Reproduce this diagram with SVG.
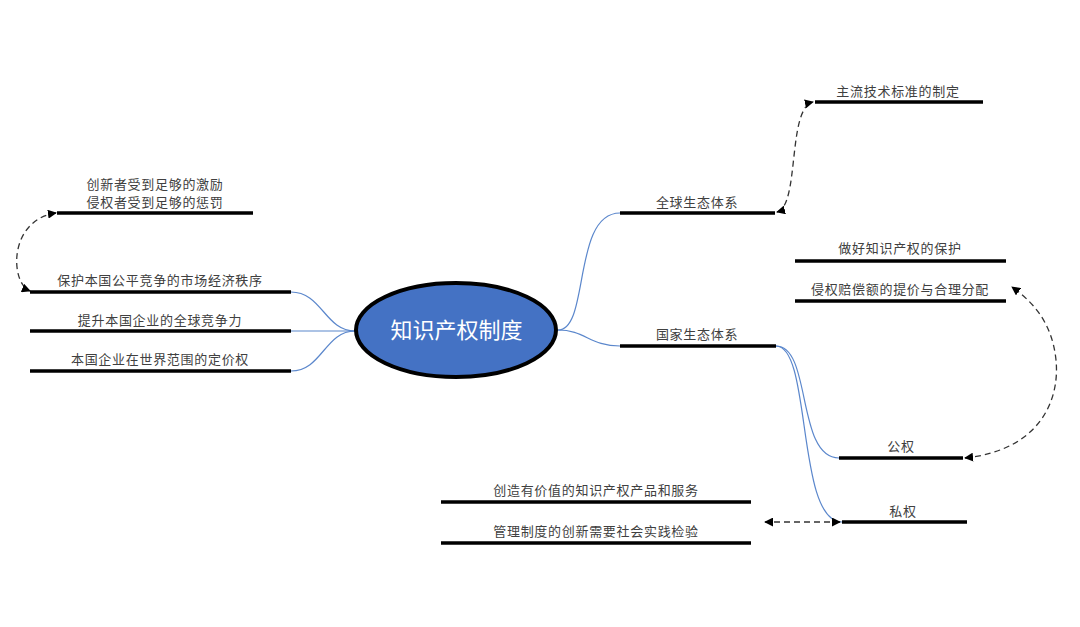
<svg xmlns="http://www.w3.org/2000/svg" width="1080" height="627" viewBox="0 0 1080 627">
<defs>
<style>
.t{font-family:"Noto Sans CJK SC","Liberation Sans",sans-serif;font-size:13px;letter-spacing:0.7px;fill:#404040;text-anchor:middle}
.bar{stroke:#000;stroke-width:3.5;fill:none}
.blue{stroke:#5B87CC;stroke-width:1.2;fill:none}
.dash{stroke:#333;stroke-width:1.3;stroke-dasharray:6 4;fill:none;marker-start:url(#ah);marker-end:url(#ah)}
</style>
<marker id="ah" viewBox="0 0 10 10" refX="9" refY="5" markerWidth="9" markerHeight="9" markerUnits="userSpaceOnUse" orient="auto-start-reverse">
<path d="M0,0 L10,5 L0,10 z" fill="#000"/>
</marker>
</defs>
<rect width="1080" height="627" fill="#fff"/>
<g id="connectors">
<path class="blue" d="M355,331 C325,331 322,292 291,292"/>
<path class="blue" d="M355,331 L291,331"/>
<path class="blue" d="M355,331 C325,331 322,371 291,371"/>
<path class="blue" d="M558,330 C590,330 572,213 620,213"/>
<path class="blue" d="M558,330 C585,330 590,346 620,346"/>
<path class="blue" d="M776,346 C812,346 796,458 839,458"/>
<path class="blue" d="M776,346 C812,346 796,522 842,522"/>
<path class="dash" d="M56,213 C8,220 10,283 30,291"/>
<path class="dash" d="M777,212 C800,206 787,108 813,102"/>
<path class="dash" d="M965,458 C1040,450 1060,400 1056,360 C1052,320 1030,300 1012,287"/>
<path class="dash" d="M840,522 L765,522"/>
</g>
<g id="root">
<ellipse cx="456" cy="330" rx="100" ry="47" fill="#4472C4" stroke="#000" stroke-width="4"/>
<text x="456.5" y="338" style="font-family:'Noto Sans CJK SC','Liberation Sans',sans-serif;font-size:22px;fill:#fff;text-anchor:middle">知识产权制度</text>
</g>
<g id="n-incentive">
<text class="t" x="155" y="189">创新者受到足够的激励</text>
<text class="t" x="155" y="207">侵权者受到足够的惩罚</text>
<line class="bar" x1="57" y1="213" x2="253" y2="213"/>
</g>
<g id="n-order">
<text class="t" x="160" y="285">保护本国公平竞争的市场经济秩序</text>
<line class="bar" x1="30" y1="292" x2="291" y2="292"/>
</g>
<g id="n-compete">
<text class="t" x="160" y="325">提升本国企业的全球竞争力</text>
<line class="bar" x1="30" y1="331" x2="291" y2="331"/>
</g>
<g id="n-price">
<text class="t" x="160" y="364">本国企业在世界范围的定价权</text>
<line class="bar" x1="30" y1="371" x2="291" y2="371"/>
</g>
<g id="n-global">
<text class="t" x="697" y="207">全球生态体系</text>
<line class="bar" x1="620" y1="213" x2="775" y2="213"/>
</g>
<g id="n-standard">
<text class="t" x="898" y="96">主流技术标准的制定</text>
<line class="bar" x1="815" y1="102" x2="983" y2="102"/>
</g>
<g id="n-national">
<text class="t" x="697" y="339">国家生态体系</text>
<line class="bar" x1="620" y1="346" x2="776" y2="346"/>
</g>
<g id="n-protect">
<text class="t" x="900" y="253">做好知识产权的保护</text>
<line class="bar" x1="795" y1="261" x2="1006" y2="261"/>
</g>
<g id="n-compensation">
<text class="t" x="900" y="294">侵权赔偿额的提价与合理分配</text>
<line class="bar" x1="795" y1="301" x2="1006" y2="301"/>
</g>
<g id="n-public">
<text class="t" x="901" y="451">公权</text>
<line class="bar" x1="839" y1="458" x2="963" y2="458"/>
</g>
<g id="n-private">
<text class="t" x="903" y="516">私权</text>
<line class="bar" x1="842" y1="522" x2="967" y2="522"/>
</g>
<g id="n-create">
<text class="t" x="596" y="495">创造有价值的知识产权产品和服务</text>
<line class="bar" x1="441" y1="502" x2="751" y2="502"/>
</g>
<g id="n-manage">
<text class="t" x="596" y="536">管理制度的创新需要社会实践检验</text>
<line class="bar" x1="441" y1="543" x2="751" y2="543"/>
</g>
</svg>
